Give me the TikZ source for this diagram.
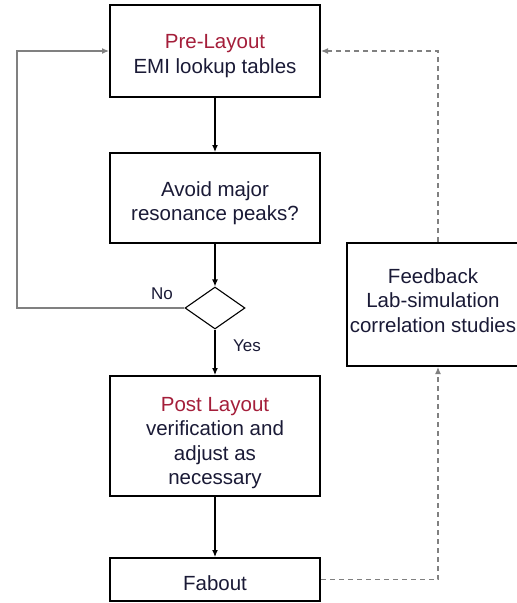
\documentclass[tikz,border=0pt]{standalone}
\usepackage{fontspec}
\setmainfont{Liberation Sans}
\usetikzlibrary{arrows.meta,shapes.geometric}
\definecolor{labelred}{HTML}{A41E3A}
\definecolor{inkblue}{HTML}{1A1A36}
\definecolor{loopgray}{HTML}{808080}
\begin{document}
\begin{tikzpicture}[x=1pt,y=-1pt,
  stepbox/.style={draw=black, line width=2pt, minimum width=210pt, inner sep=0pt},
  steptext/.style={align=center, font=\fontsize{20.5}{24.5}\selectfont,
    text=inkblue, inner sep=0pt},
  decision/.style={diamond, draw=black, line width=1.1pt, minimum width=60pt,
    minimum height=42pt, inner sep=0pt},
  flow/.style={line width=1.2pt, -{Latex[length=7pt,width=6pt]}},
  loopback/.style={draw=loopgray, line width=1.1pt, -{Latex[length=7pt,width=6pt]}},
  feedline/.style={draw=loopgray, line width=1.1pt, dash pattern=on 5pt off 4pt,
    -{Latex[length=7pt,width=6pt]}},
  answer/.style={font=\fontsize{17}{20}\selectfont, text=inkblue}]
  \clip (0,0) rectangle (517,603);

  % process step frames
  \node[stepbox, minimum height=92pt] (pre) at (215,51) {};
  \node[stepbox, minimum height=90pt] (avoid) at (215,198) {};
  \node[decision] (dec) at (215,308) {};
  \node[stepbox, minimum height=120pt] (post) at (215,436) {};
  \node[stepbox, minimum height=43pt] (fab) at (215,579.5) {};
  \node[stepbox, minimum width=182pt, minimum height=123pt] (feed) at (438,304.5) {};

  % step texts
  \node[steptext, yshift=-5pt] (pre-text) at (pre)
    {\textcolor{labelred}{Pre-Layout}\\EMI lookup tables};
  \node[steptext, yshift=-5pt] (avoid-text) at (avoid)
    {Avoid major\\resonance peaks?};
  \node[steptext, yshift=-7pt] (post-text) at (post)
    {\textcolor{labelred}{Post Layout}\\verification and\\adjust as\\necessary};
  \node[steptext, yshift=-4pt] (fab-text) at (fab) {Fabout};
  \node[steptext, yshift=4pt, xshift=-5pt] (feed-text) at (feed)
    {Feedback\\Lab-simulation\\correlation studies};

  % answer labels
  \node[answer] (no) at (162,294) {No};
  \node[answer] (yes) at (247,346) {Yes};

  % main flow
  \draw[flow] (pre) -- (avoid);
  \draw[flow] (avoid) -- (dec.north);
  \draw[flow] (dec) -- (post);
  \draw[flow] (post) -- (fab);

  % retry loop
  \coordinate (loopcorner) at (17,308);
  \draw[loopback] (dec.west) -- (loopcorner) |- (pre.west);

  % feedback loop
  \draw[feedline] (fab.east) -| (feed.south);
  \draw[feedline] (feed.north) |- (pre.east);
\end{tikzpicture}
\end{document}
